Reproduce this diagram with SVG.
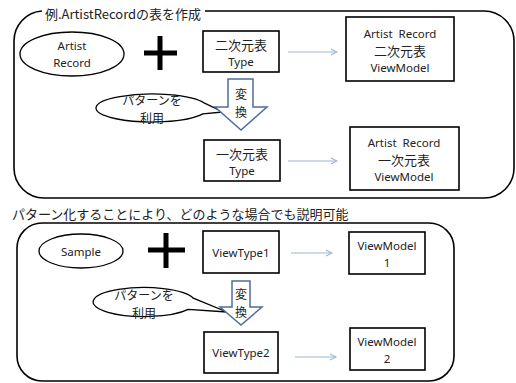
<svg xmlns="http://www.w3.org/2000/svg" width="516" height="383" viewBox="0 0 516 383">
<style>
text{font-family:"Noto Sans","Noto Sans CJK JP",sans-serif;font-size:11.5px;fill:#222;text-anchor:middle;dominant-baseline:central}
.jp{font-family:"Noto Sans CJK JP","Noto Sans",sans-serif;font-size:12px}
.jl{font-family:"Noto Sans CJK JP","Noto Sans",sans-serif;font-size:13px}
.panel{fill:none;stroke:#000;stroke-width:1.6}
.box{fill:#fff;stroke:#000;stroke-width:1.6}
.ell{fill:#fff;stroke:#000;stroke-width:1.3}
.plus{stroke:#000;stroke-width:5;fill:none}
.conn{stroke:#9db4d8;stroke-width:1.2;fill:none}
.blk{fill:#fff;stroke:#4f6d9c;stroke-width:1.5}
</style>
<defs>
<marker id="ah" markerWidth="8" markerHeight="8" refX="7" refY="4" orient="auto" markerUnits="userSpaceOnUse">
<path d="M1,1 L7,4 L1,7" fill="none" stroke="#9db4d8" stroke-width="1.1"/>
</marker>
</defs>

<g id="panel-top">
<path class="panel" d="M205,11 H484 A30 30 0 0 1 514,41 V168 A30 30 0 0 1 484,198 H44 A30 30 0 0 1 14,168 V41 A30 30 0 0 1 42,11"/>
<text x="123" y="13" class="jl">例.ArtistRecordの表を作成</text>
</g>

<g id="artist-record">
<ellipse class="ell" cx="72" cy="54" rx="52" ry="22"/>
<text x="72" y="45">Artist</text>
<text x="72" y="62">Record</text>
</g>
<g id="plus-top"><path class="plus" d="M144,53 H177 M160,36 V70"/></g>

<g id="type2d">
<rect class="box" x="203" y="31" width="76" height="41"/>
<text x="241" y="44" class="jl">二次元表</text>
<text x="241" y="61">Type</text>
</g>
<g id="vm2d">
<rect class="box" x="346" y="17" width="108" height="64"/>
<text x="400" y="33" xml:space="preserve">Artist  Record</text>
<text x="400" y="50" class="jl">二次元表</text>
<text x="400" y="67">ViewModel</text>
</g>

<g id="bubble-top">
<path class="ell" d="M204.6,103.2 A56 14 0 1 0 202.8,113.9 L223,112 Z"/>
<text x="152" y="99" class="jp">パターンを</text>
<text x="152" y="117" class="jp">利用</text>
</g>
<g id="convert-top">
<path class="blk" d="M228,79 H253 V107 H267 L241,130 L215,107 H228 Z"/>
<text x="241" y="93" class="jp">変</text>
<text x="241" y="111" class="jp">換</text>
</g>

<g id="type1d">
<rect class="box" x="204" y="140" width="76" height="41"/>
<text x="242" y="153" class="jl">一次元表</text>
<text x="242" y="170">Type</text>
</g>
<g id="vm1d">
<rect class="box" x="350" y="127" width="109" height="63"/>
<text x="404" y="142" xml:space="preserve">Artist  Record</text>
<text x="404" y="159" class="jl">一次元表</text>
<text x="404" y="176">ViewModel</text>
</g>

<text x="12" y="213" class="jl" style="text-anchor:start">パターン化することにより、どのような場合でも説明可能</text>

<g id="panel-bottom">
<rect class="panel" x="17" y="223" width="437" height="158" rx="25" ry="25"/>
</g>

<g id="sample">
<ellipse class="ell" cx="81" cy="251" rx="42" ry="17"/>
<text x="81" y="251">Sample</text>
</g>
<g id="plus-bottom"><path class="plus" d="M148,250 H185 M166,233 V268"/></g>

<g id="viewtype1">
<rect class="box" x="203" y="231" width="76" height="42"/>
<text x="241" y="252">ViewType1</text>
</g>
<g id="viewmodel1">
<rect class="box" x="349" y="232" width="76" height="42"/>
<text x="387" y="245">ViewModel</text>
<text x="387" y="262">1</text>
</g>

<g id="bubble-bottom">
<path class="ell" d="M193.3,298.2 A51 14.5 0 1 0 188.2,309.3 L227,312 Z"/>
<text x="144" y="294" class="jp">パターンを</text>
<text x="144" y="312" class="jp">利用</text>
</g>
<g id="convert-bottom">
<path class="blk" d="M232,281 H250 V307 H262 L241,325 L220,307 H232 Z"/>
<text x="241" y="293" class="jp">変</text>
<text x="241" y="311" class="jp">換</text>
</g>

<g id="viewtype2">
<rect class="box" x="204" y="332" width="74" height="41"/>
<text x="241" y="352">ViewType2</text>
</g>
<g id="viewmodel2">
<rect class="box" x="350" y="328" width="75" height="42"/>
<text x="387" y="341">ViewModel</text>
<text x="387" y="358">2</text>
</g>

<g id="connectors">
<line class="conn" x1="288" y1="52" x2="337" y2="52" marker-end="url(#ah)"/>
<line class="conn" x1="288" y1="161" x2="337" y2="161" marker-end="url(#ah)"/>
<line class="conn" x1="291" y1="253" x2="332" y2="253" marker-end="url(#ah)"/>
<line class="conn" x1="295" y1="357" x2="336" y2="357" marker-end="url(#ah)"/>
</g>
</svg>
